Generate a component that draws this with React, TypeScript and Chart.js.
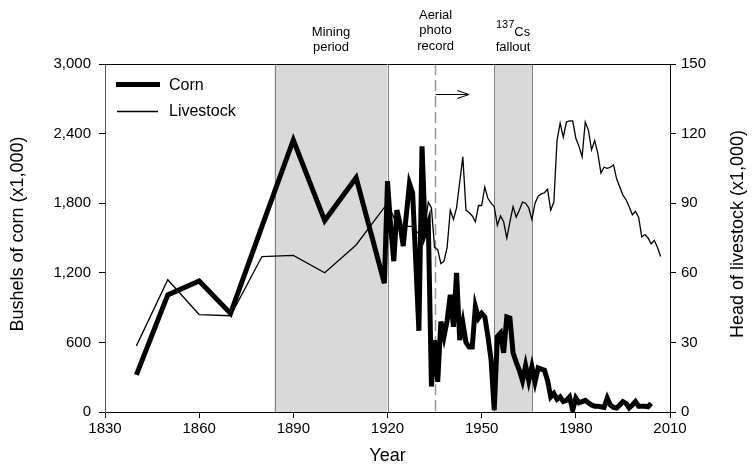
import React, { useEffect, useRef } from "react";
import { Chart, registerables } from "chart.js";

Chart.register(...registerables);

// Census years, then annual county records
const cornYears = [
  1840, 1850, 1860, 1870, 1880, 1890, 1900, 1910, 1919,
  1920, 1921, 1922, 1923, 1924, 1925, 1926, 1927, 1928, 1929,
  1930, 1931, 1932, 1933, 1934, 1935, 1936, 1937, 1938, 1939,
  1940, 1941, 1942, 1943, 1944, 1945, 1946, 1947, 1948, 1949,
  1950, 1951, 1952, 1953, 1954, 1955, 1956, 1957, 1958, 1959,
  1960, 1961, 1962, 1963, 1964, 1965, 1966, 1967, 1968, 1969,
  1970, 1971, 1972, 1973, 1974, 1975, 1976, 1977, 1978, 1979,
  1980, 1981, 1982, 1983, 1984, 1985, 1986, 1987, 1988, 1989,
  1990, 1991, 1992, 1993, 1994, 1995, 1996, 1997, 1998, 1999,
  2000, 2001, 2002, 2003, 2004,
];
// Bushels of corn (x1,000)
const cornBushels = [
  320, 1010, 1130, 850, 1600, 2345, 1650, 2020, 1110,
  1990, 1600, 1300, 1740, 1620, 1430, 1700, 1970, 1890, 1300,
  700, 2290, 1550, 1630, 220, 620, 260, 780, 650, 790,
  1010, 735, 1200, 620, 770, 600, 560, 560, 910, 810,
  850, 820, 650, 450, 15, 650, 680, 510, 820, 810,
  510, 430, 360, 270, 400, 270, 390, 260, 380, 370,
  360, 270, 130, 160, 110, 130, 90, 100, 130, 15,
  120, 80, 90, 100, 80, 60, 50, 50, 45, 40,
  120, 60, 40, 35, 60, 90, 75, 35, 60, 90,
  50, 50, 50, 45, 75,
];

const livestockYears = [
  1840, 1850, 1860, 1870, 1880, 1890, 1900, 1910,
  1920, 1921, 1922, 1923, 1924, 1925, 1926, 1927, 1928, 1929,
  1930, 1931, 1932, 1933, 1934, 1935, 1936, 1937, 1938, 1939,
  1940, 1941, 1942, 1943, 1944, 1945, 1946, 1947, 1948, 1949,
  1950, 1951, 1952, 1953, 1954, 1955, 1956, 1957, 1958, 1959,
  1960, 1961, 1962, 1963, 1964, 1965, 1966, 1967, 1968, 1969,
  1970, 1971, 1972, 1973, 1974, 1975, 1976, 1977, 1978, 1979,
  1980, 1981, 1982, 1983, 1984, 1985, 1986, 1987, 1988, 1989,
  1990, 1991, 1992, 1993, 1994, 1995, 1996, 1997, 1998, 1999,
  2000, 2001, 2002, 2003, 2004, 2005, 2006, 2007,
];
// Head of livestock (x1,000)
const livestockHead = [
  28.5, 57, 42, 41.5, 67, 67.5, 60, 72,
  90, 87, 84, 81, 80, 80, 80, 80, 80, 78,
  77, 78, 80, 90.5, 88, 71, 70, 64, 65, 71,
  87, 83, 88, 99, 110, 87, 86, 84.5, 82, 89,
  89, 97, 92, 90, 88.5, 80.5, 84.5, 82, 75, 82,
  88.5, 84, 87, 90.5, 90, 88, 83, 90, 93, 94,
  94.5, 96, 87, 90.5, 117, 124.5, 118.5, 125, 125.5, 125.5,
  118, 114.5, 110, 125, 121.5, 113, 117, 111.5, 103, 105.5,
  105, 105.5, 106.5, 100.5, 97, 93.5, 91.5, 88.5, 85, 86.5,
  84, 75.5, 76.5, 75, 72.5, 74, 71, 67,
];

// Shaded periods and the aerial photo marker
const miningPeriod = [1884, 1920];
const falloutPeriod = [1954, 1966];
const aerialStart = 1935;
const aerialArrowEnd = 1946;
const aerialArrowLevel = 2740;

const cornTicks = [0, 600, 1200, 1800, 2400, 3000];
const livestockTicks = [0, 30, 60, 90, 120, 150];
const yearTicks = [1830, 1860, 1890, 1920, 1950, 1980, 2010];

const FONT = "'Liberation Sans', Arial, Helvetica, sans-serif";

const decorations = {
  id: "decorations",
  beforeDatasetsDraw(chart: any) {
    const { ctx, chartArea, scales } = chart;
    const { top, bottom } = chartArea;
    const x = scales.x;
    const y = scales.y;
    ctx.save();
    for (const [a, b] of [miningPeriod, falloutPeriod]) {
      const xa = x.getPixelForValue(a);
      const xb = x.getPixelForValue(b);
      ctx.fillStyle = "#d9d9d9";
      ctx.fillRect(xa, top, xb - xa, bottom - top);
      ctx.strokeStyle = "#7f7f7f";
      ctx.lineWidth = 1;
      ctx.beginPath();
      ctx.moveTo(Math.round(xa) + 0.5, top);
      ctx.lineTo(Math.round(xa) + 0.5, bottom);
      ctx.moveTo(Math.round(xb) + 0.5, top);
      ctx.lineTo(Math.round(xb) + 0.5, bottom);
      ctx.stroke();
    }
    // aerial photo record start
    const xd = Math.round(x.getPixelForValue(aerialStart)) + 0.5;
    ctx.strokeStyle = "#9a9a9a";
    ctx.lineWidth = 1.5;
    ctx.setLineDash([11, 5]);
    ctx.beginPath();
    ctx.moveTo(xd, top);
    ctx.lineTo(xd, bottom);
    ctx.stroke();
    ctx.setLineDash([]);
    // arrow
    const ya = Math.round(y.getPixelForValue(aerialArrowLevel)) + 0.5;
    const xe = x.getPixelForValue(aerialArrowEnd);
    ctx.strokeStyle = "#000";
    ctx.lineWidth = 1;
    ctx.beginPath();
    ctx.moveTo(xd, ya);
    ctx.lineTo(xe, ya);
    ctx.moveTo(xe - 12, ya - 4);
    ctx.lineTo(xe, ya);
    ctx.lineTo(xe - 12, ya + 4);
    ctx.stroke();
    ctx.restore();
    // keep sharp joins of the thick series from shooting far past their points
    ctx.miterLimit = 6;
  },
  afterDatasetsDraw(chart: any) {
    chart.ctx.miterLimit = 10;
  },
  afterDraw(chart: any) {
    const { ctx, chartArea, scales } = chart;
    const { left, right, top, bottom } = chartArea;
    const x = scales.x;
    ctx.save();
    // top frame line
    ctx.strokeStyle = "#000";
    ctx.lineWidth = 1;
    ctx.beginPath();
    ctx.moveTo(left, Math.round(top) + 0.5);
    ctx.lineTo(right, Math.round(top) + 0.5);
    ctx.stroke();

    ctx.fillStyle = "#000";
    ctx.textAlign = "center";
    ctx.textBaseline = "middle";
    ctx.font = `13px ${FONT}`;
    const xm = (x.getPixelForValue(miningPeriod[0]) + x.getPixelForValue(miningPeriod[1])) / 2;
    ctx.fillText("Mining", xm, 32);
    ctx.fillText("period", xm, 47);
    const xa = x.getPixelForValue(aerialStart);
    ctx.fillText("Aerial", xa + 1, 15);
    ctx.fillText("photo", xa + 1, 30.5);
    ctx.fillText("record", xa + 1, 46);
    const xf = (x.getPixelForValue(falloutPeriod[0]) + x.getPixelForValue(falloutPeriod[1])) / 2;
    ctx.fillText("fallout", xf, 47);
    ctx.textAlign = "left";
    ctx.font = `11px ${FONT}`;
    const supW = ctx.measureText("137").width;
    ctx.font = `13px ${FONT}`;
    const csW = ctx.measureText("Cs").width;
    const startX = xf - (supW + csW) / 2;
    ctx.font = `11px ${FONT}`;
    ctx.fillText("137", startX, 25);
    ctx.font = `13px ${FONT}`;
    ctx.fillText("Cs", startX + supW, 32);

    // axis titles
    ctx.font = `18px ${FONT}`;
    ctx.textAlign = "center";
    ctx.fillText("Year", (left + right) / 2, 456);
    const midY = (top + bottom) / 2 - 4;
    ctx.save();
    ctx.translate(18, midY);
    ctx.rotate(-Math.PI / 2);
    ctx.fillText("Bushels of corn (x1,000)", 0, 0);
    ctx.restore();
    ctx.save();
    ctx.translate(738, midY);
    ctx.rotate(-Math.PI / 2);
    ctx.fillText("Head of livestock (x1,000)", 0, 0);
    ctx.restore();

    // legend
    ctx.strokeStyle = "#000";
    ctx.lineCap = "butt";
    ctx.lineWidth = 5;
    ctx.beginPath();
    ctx.moveTo(116, 84.5);
    ctx.lineTo(160, 84.5);
    ctx.stroke();
    ctx.lineWidth = 1.3;
    ctx.beginPath();
    ctx.moveTo(117, 111.5);
    ctx.lineTo(158, 111.5);
    ctx.stroke();
    ctx.font = `16px ${FONT}`;
    ctx.textAlign = "left";
    ctx.fillText("Corn", 169, 86);
    ctx.fillText("Livestock", 169, 112);
    ctx.restore();
  },
};

export default function App() {
  const canvasRef = useRef<HTMLCanvasElement | null>(null);

  useEffect(() => {
    const canvas = canvasRef.current;
    if (!canvas) return;
    const tickFont = { family: FONT, size: 15 };
    const chart = new Chart(canvas, {
      type: "line",
      data: {
        datasets: [
          {
            label: "Corn",
            data: cornYears.map((yr, i) => ({ x: yr, y: cornBushels[i] })),
            borderColor: "#000",
            borderWidth: 5,
            pointRadius: 0,
            tension: 0,
            yAxisID: "y",
          },
          {
            label: "Livestock",
            data: livestockYears.map((yr, i) => ({ x: yr, y: livestockHead[i] })),
            borderColor: "#000",
            borderWidth: 1.3,
            pointRadius: 0,
            tension: 0,
            yAxisID: "y1",
          },
        ],
      },
      options: {
        responsive: false,
        animation: false,
        events: [],
        layout: { padding: { top: 64, left: 0, right: 0, bottom: 0 } },
        plugins: { legend: { display: false }, tooltip: { enabled: false } },
        scales: {
          x: {
            type: "linear",
            min: 1830,
            max: 2010,
            afterFit: (s: any) => { s.height = 62; },
            afterBuildTicks: (s: any) => { s.ticks = yearTicks.map((v) => ({ value: v })); },
            ticks: { color: "#000", font: tickFont, padding: 2, maxRotation: 0, callback: (v: any) => String(v) },
            grid: { drawOnChartArea: false, drawTicks: true, tickLength: 6, color: "#000" },
            border: { display: true, color: "#000", width: 1 },
          },
          y: {
            type: "linear",
            position: "left",
            min: 0,
            max: 3000,
            afterFit: (s: any) => { s.width = 105; },
            afterBuildTicks: (s: any) => { s.ticks = cornTicks.map((v) => ({ value: v })); },
            ticks: { color: "#000", font: tickFont, padding: 8, callback: (v: any) => Number(v).toLocaleString("en-US") },
            grid: { drawOnChartArea: false, drawTicks: true, tickLength: 6, color: "#000" },
            border: { display: true, color: "#555", width: 1 },
          },
          y1: {
            type: "linear",
            position: "right",
            min: 0,
            max: 150,
            afterFit: (s: any) => { s.width = 84; },
            afterBuildTicks: (s: any) => { s.ticks = livestockTicks.map((v) => ({ value: v })); },
            ticks: { color: "#000", font: tickFont, padding: 5, callback: (v: any) => String(v) },
            grid: { drawOnChartArea: false, drawTicks: true, tickLength: 6, color: "#000" },
            border: { display: true, color: "#000", width: 1 },
          },
        },
      },
      plugins: [decorations],
    });
    return () => chart.destroy();
  }, []);

  return (
    <div style={{ position: "fixed", left: 0, top: 0, width: 754, height: 474, background: "#fff" }}>
      <canvas ref={canvasRef} width={754} height={474} style={{ display: "block" }} />
    </div>
  );
}
